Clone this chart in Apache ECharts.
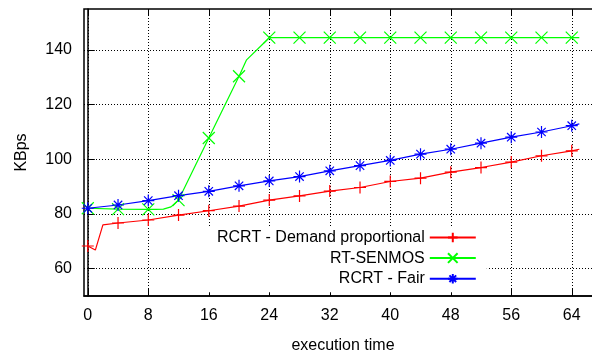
<!DOCTYPE html>
<html>
<head>
<meta charset="utf-8">
<script src="https://cdn.jsdelivr.net/npm/echarts@6/dist/echarts.min.js"></script>
<style>
  html, body { margin: 0; padding: 0; background: #fff; }
  #chart { width: 592px; height: 358px; }
</style>
</head>
<body>
<div id="chart"></div>
<script>
// tick labels
const xTicks = [0, 8, 16, 24, 32, 40, 48, 56, 64]
const yTicks = [60, 80, 100, 120, 140]

// RCRT - Demand proportional
const demandX = [0, 1, 2, 4, 8, 12, 16, 20, 24, 28, 32, 36, 40, 44, 48, 52, 56, 60, 64, 65]
const demandY = [68.3, 66.8, 76, 76.7, 77.8, 79.6, 81.2, 82.9, 85.1, 86.6, 88.4, 89.7, 91.9, 93.1, 95.3, 97, 99, 101.3, 103.1, 103.7]

// RT-SENMOS
const senmosX = [0, 4, 8, 9, 10, 11, 12, 16, 20, 21, 24, 28, 32, 36, 40, 44, 48, 52, 56, 60, 64, 65]
const senmosY = [82.1, 81.8, 81.7, 81.7, 81.8, 82.6, 85.1, 107.8, 130.4, 136.4, 144.5, 144.5, 144.5, 144.5, 144.5, 144.5, 144.5, 144.5, 144.5, 144.5, 144.5, 144.5]

// RCRT - Fair
const fairX = [0, 4, 8, 12, 16, 20, 24, 28, 32, 36, 40, 44, 48, 52, 56, 60, 64, 65]
const fairY = [82.1, 83.3, 84.9, 86.7, 88.3, 90.3, 92.1, 93.7, 95.8, 97.7, 99.6, 101.9, 103.7, 105.9, 108.1, 110, 112.3, 113]

const PLUS = 'path://M0,5L10,5M5,0L5,10'
const CROSS = 'path://M0,0L10,10M10,0L0,10'
const STAR = 'path://M0,5L10,5M5,0L5,10M1.5,1.5L8.5,8.5M8.5,1.5L1.5,8.5'

// gnuplot draws a point only every 4 units
function toData(xs, ys) {
  return xs.map((x, i) => {
    const item = { value: [x, ys[i]] }
    if (x % 4 !== 0 || x > 64) item.symbol = 'none'
    return item
  })
}

function lineSeries(name, xs, ys, color, symbol) {
  return {
    name: name,
    type: 'line',
    data: toData(xs, ys),
    symbol: symbol,
    symbolSize: 12,
    showSymbol: true,
    showAllSymbol: true,
    lineStyle: { width: 1.2, color: color },
    itemStyle: { color: color, borderColor: color, borderWidth: 1.2 },
    emphasis: { disabled: true }
  }
}

const font = 'Liberation Sans, Arial, sans-serif'
const gridLine = { show: true, lineStyle: { color: '#000', type: [1, 2], width: 1 } }

const chart = echarts.init(document.getElementById('chart'))
chart.setOption({
  animation: false,
  textStyle: { fontFamily: font },
  grid: {
    left: 84,
    top: 9,
    width: 518,
    bottom: 62,
    outerBoundsMode: 'none',
    show: true,
    borderColor: '#000',
    borderWidth: 1.5
  },
  legend: {
    orient: 'vertical',
    align: 'right',
    left: 191,
    top: 227,
    padding: [2, 10, 5, 26],
    itemWidth: 46,
    itemHeight: 12,
    itemGap: 3.6,
    backgroundColor: '#fff',
    selectedMode: false,
    textStyle: { fontSize: 16, lineHeight: 17, color: '#000', fontFamily: font },
    data: ['RCRT - Demand proportional', 'RT-SENMOS', 'RCRT - Fair']
  },
  xAxis: [
    {
      type: 'value',
      min: -0.5,
      max: 68,
      name: 'execution time',
      nameLocation: 'middle',
      nameGap: 42,
      nameTextStyle: { fontSize: 16, color: '#000' },
      axisLine: { lineStyle: { color: '#000', width: 1.5 } },
      axisTick: { inside: true, length: 7, customValues: xTicks, lineStyle: { color: '#000' } },
      axisLabel: { customValues: xTicks, fontSize: 16, color: '#000', margin: 12 },
      splitLine: gridLine
    },
    {
      type: 'value',
      position: 'top',
      min: -0.5,
      max: 68,
      axisLine: { show: false },
      axisTick: { inside: true, length: 6, customValues: xTicks, lineStyle: { color: '#000' } },
      axisLabel: { show: false },
      splitLine: { show: false }
    }
  ],
  yAxis: {
    type: 'value',
    min: 50,
    max: 155,
    name: 'KBps',
    nameLocation: 'middle',
    nameGap: 54,
    nameTextStyle: { fontSize: 16, color: '#000' },
    axisLine: { show: true, lineStyle: { color: '#000', width: 1.5 } },
    axisTick: { show: true, inside: true, length: 7, customValues: yTicks, lineStyle: { color: '#000' } },
    axisLabel: { customValues: yTicks, fontSize: 16, color: '#000', margin: 12 },
    splitLine: gridLine
  },
  series: [
    lineSeries('RCRT - Demand proportional', demandX, demandY, '#ff0000', PLUS),
    lineSeries('RT-SENMOS', senmosX, senmosY, '#00ff00', CROSS),
    lineSeries('RCRT - Fair', fairX, fairY, '#0000ff', STAR)
  ]
})
</script>
</body>
</html>
